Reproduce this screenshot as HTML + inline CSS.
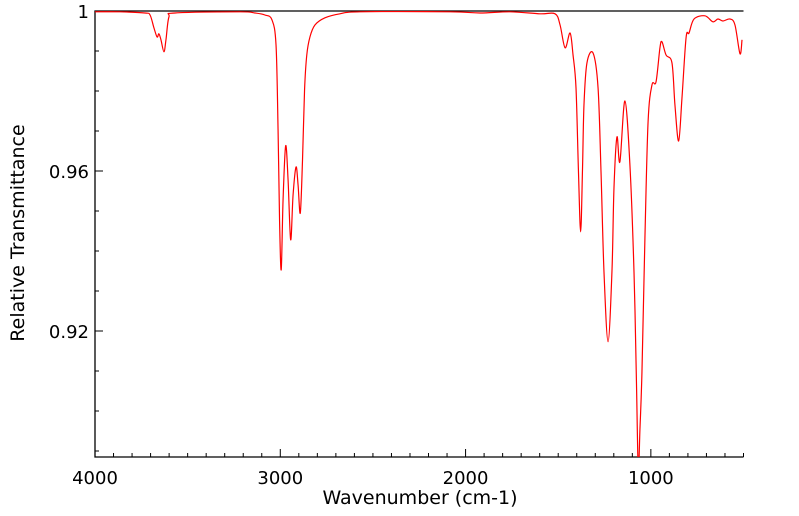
<!DOCTYPE html>
<html><head><meta charset="utf-8"><style>
body{margin:0;background:#fff;}
svg{display:block;font-family:"DejaVu Sans","Liberation Sans",sans-serif;}
</style></head><body>
<svg id="chart" width="799" height="516">
<g id="axes"></g>
<g id="plot"></g>
<text x="420" y="504" font-size="19" text-anchor="middle">Wavenumber (cm-1)</text>
<text transform="translate(24,233) rotate(-90)" font-size="19" text-anchor="middle">Relative Transmittance</text>
</svg>
<script>
const wavenumbers=[4000,3865,3730,3703,3682,3665,3655,3644,3628,3617,3601,3568,3217,3136,3083,3045,3023,3012,3004,2995,2985,2971,2958,2944,2931,2915,2904,2892,2880,2869,2857,2840,2813,2759,2678,2570,2084,1922,1760,1598,1517,1490,1463,1436,1420,1404,1391,1379,1369,1361,1345,1312,1285,1269,1253,1231,1210,1199,1183,1167,1140,1113,1091,1078,1068,1059,1048,1032,1015,994,972,951,940,918,886,870,850,832,810,794,767,708,665,638,611,573,546,519,508];
const transmittance=[0.9998,0.9998,0.9995,0.999,0.9958,0.9935,0.9943,0.9928,0.9898,0.9928,0.9985,0.9995,0.9998,0.9995,0.999,0.9978,0.9915,0.9703,0.9478,0.9353,0.9528,0.9663,0.9578,0.9428,0.954,0.961,0.9565,0.9495,0.9628,0.9803,0.989,0.9935,0.9965,0.9983,0.9993,0.9998,0.9998,0.9995,0.9998,0.9993,0.9993,0.9965,0.9908,0.9945,0.989,0.9808,0.9603,0.9448,0.9603,0.9765,0.987,0.9895,0.9808,0.9598,0.9348,0.9173,0.9348,0.9558,0.9685,0.9623,0.9775,0.9615,0.9348,0.9078,0.8853,0.8953,0.9098,0.9433,0.9723,0.9815,0.9823,0.9908,0.9923,0.989,0.987,0.9765,0.9675,0.9783,0.9933,0.9945,0.998,0.9988,0.9973,0.998,0.9975,0.998,0.9965,0.9893,0.9928];
const xTickLabels=[4000,3000,2000,1000];
const yTickLabels=[1,0.96,0.92];
const X0=95,X1=743.5,Y0=11,Y1=457;
const xMax=4000,xMin=500,yMax=1,yMin=0.8885;
const sx=v=>X0+(xMax-v)/(xMax-xMin)*(X1-X0);
const sy=v=>Y0+(yMax-v)/(yMax-yMin)*(Y1-Y0);
const NS="http://www.w3.org/2000/svg";
const axes=document.getElementById('axes'),plot=document.getElementById('plot');
function mk(tag,attrs,parent){const e=document.createElementNS(NS,tag);for(const k in attrs)e.setAttribute(k,attrs[k]);parent.appendChild(e);return e;}
const defs=mk('defs',{},document.getElementById('chart'));
const cp=mk('clipPath',{id:'clip'},defs);
mk('rect',{x:X0,y:Y0,width:X1-X0,height:Y1-Y0},cp);
const fr=mk('path',{d:`M${X1},${Y0}H${X0}V${Y1}H${X1}`,fill:'none',stroke:'#000','stroke-width':1.3},axes);


for(let w=4000;w>=500;w-=100){
  const major=w%1000===0;const x=sx(w);
  const t=mk('line',{x1:x,x2:x,y1:Y1,y2:Y1-(major?8:4),stroke:'#000','stroke-width':1},axes);
  
  
}
xTickLabels.forEach(w=>{
  const t=mk('text',{x:sx(w),y:484,'font-size':18,'text-anchor':'middle'},axes);t.textContent=w;
  
  
});
for(let i=0;i<=11;i++){
  const v=1-i*0.01;const y=sy(v);const major=i%4===0;
  const t=mk('line',{x1:X0,x2:X0+(major?8:4),y1:y,y2:y,stroke:'#000','stroke-width':1},axes);
  
  
}
yTickLabels.forEach(v=>{
  const t=mk('text',{x:89,y:sy(v)+7,'font-size':18,'text-anchor':'end'},axes);t.textContent=v;
  
  
});
const pts=wavenumbers.map((w,i)=>[sx(w),sy(transmittance[i])]);
let d=`M${pts[0][0]},${pts[0][1]}`;
for(let i=0;i<pts.length-1;i++){
  const p0=pts[Math.max(0,i-1)],p1=pts[i],p2=pts[i+1],p3=pts[Math.min(pts.length-1,i+2)];
  const c1=[p1[0]+(p2[0]-p0[0])/6,p1[1]+(p2[1]-p0[1])/6];
  const c2=[p2[0]-(p3[0]-p1[0])/6,p2[1]-(p3[1]-p1[1])/6];
  d+=`C${c1[0]},${c1[1]} ${c2[0]},${c2[1]} ${p2[0]},${p2[1]}`;
}
const line=mk('path',{d:d,fill:'none',stroke:'#ff0000','stroke-width':1.2,'clip-path':'url(#clip)'},plot);


</script>
</body></html>
